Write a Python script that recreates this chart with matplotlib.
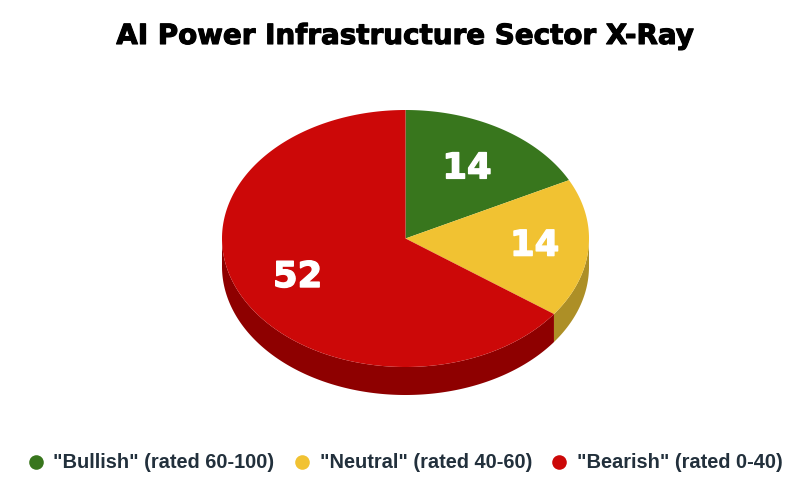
import numpy as np
import matplotlib.pyplot as plt
import matplotlib.patheffects as pe

plt.rcParams['font.family'] = ['Liberation Sans', 'DejaVu Sans']

title = "AI Power Infrastructure Sector X-Ray"
labels = ['"Bullish" (rated 60-100)', '"Neutral" (rated 40-60)', '"Bearish" (rated 0-40)']
values = [14, 14, 52]
colors = ['#38761d', '#f1c232', '#cc0808']
side_colors = ['#275214', '#ad8f26', '#8e0000']

W, H = 807, 492
fig = plt.figure(figsize=(W / 100, H / 100), dpi=100)
ax = fig.add_axes([0, 0, 1, 1])
ax.set_xlim(0, W)
ax.set_ylim(H, 0)
ax.axis('off')

# pie geometry in pixels
cx, cy = 405.5, 238.5
rx, ry = 183.5, 128.5
depth = 28


def xy(ang):
    # angle clockwise from 12 o'clock
    return cx + rx * np.sin(ang), cy - ry * np.cos(ang)


edges = np.concatenate([[0], np.cumsum(values)]) / sum(values) * 2 * np.pi

# side wall first, only the front half shows
for i in range(len(values)):
    a0 = max(edges[i], np.pi / 2)
    a1 = min(edges[i + 1], 3 * np.pi / 2)
    if a1 <= a0:
        continue
    t = np.linspace(a0, a1, 200)
    x, y = xy(t)
    pts = np.vstack([np.column_stack([x, y]), np.column_stack([x[::-1], y[::-1] + depth])])
    ax.fill(pts[:, 0], pts[:, 1], color=side_colors[i], lw=0)

# top face
for i in range(len(values)):
    t = np.linspace(edges[i], edges[i + 1], 300)
    x, y = xy(t)
    ax.fill(np.r_[cx, x], np.r_[cy, y], color=colors[i], lw=0, zorder=2)

# value labels, the reference nudges the middle one outward
label_frac = [0.64, 0.705, 0.66]
for i, v in enumerate(values):
    mid = (edges[i] + edges[i + 1]) / 2
    lx = cx + rx * label_frac[i] * np.sin(mid)
    ly = cy - ry * label_frac[i] * np.cos(mid)
    ax.text(lx, ly, str(v), color='white', fontsize=25.5, fontweight='bold', family='DejaVu Sans',
            ha='center', va='center', zorder=3,
            path_effects=[pe.withStroke(linewidth=1.0, foreground='white')])

# no black weight installed, DejaVu bold with a thin stroke is closest in width
ax.text(405, 36, title, color='black', fontsize=20, fontweight='bold', family='DejaVu Sans',
        ha='center', va='center', path_effects=[pe.withStroke(linewidth=0.8, foreground='black')])

# legend
dot_x = [36, 302, 559]
text_x = [53, 320, 577]
for dx, tx, lab, c in zip(dot_x, text_x, labels, colors):
    ax.plot(dx, 462, 'o', ms=10.5, color=c, mew=0)
    ax.text(tx, 463, lab, color='#22303c', fontsize=14.4, fontweight='bold',
            ha='left', va='center')

fig.savefig('out.png', dpi=100)
